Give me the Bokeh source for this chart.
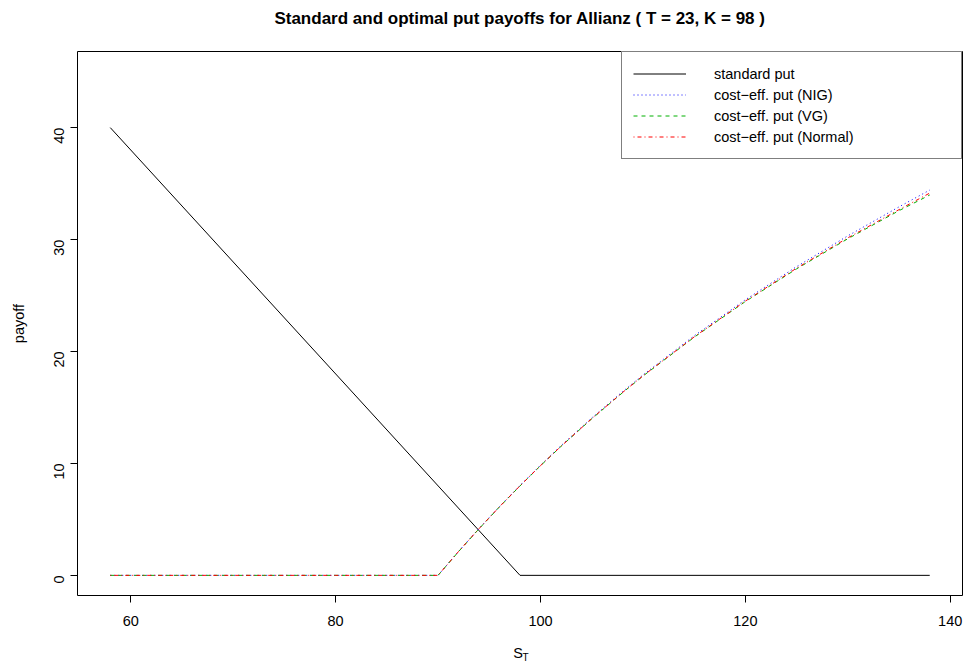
from bokeh.plotting import figure
from bokeh.models import Range1d, FixedTicker, Legend, LegendItem, LinearAxis
from bokeh.embed import file_html
from bokeh.resources import INLINE
import math

# ---- data ----
s_std = [58, 98, 138]
put_std = [40, 0, 0]

s_ce = [58, 70, 80, 90, 92, 94, 96, 98, 100, 102, 105, 108, 110, 115, 120, 125, 130, 135, 138]
put_nig = [0, 0, 0, 0, 2.14, 4.19, 6.15, 8.03, 9.84, 11.58, 14.06, 16.40, 17.90, 21.40, 24.62, 27.58, 30.33, 32.92, 34.42]
put_vg = [0, 0, 0, 0, 2.12, 4.16, 6.12, 7.99, 9.79, 11.52, 13.98, 16.31, 17.80, 21.27, 24.46, 27.38, 30.07, 32.58, 33.98]
put_norm = [0, 0, 0, 0, 2.13, 4.17, 6.13, 8.00, 9.80, 11.53, 14.00, 16.33, 17.82, 21.30, 24.50, 27.44, 30.15, 32.67, 34.15]

x_ticks = [60, 80, 100, 120, 140]
y_ticks = [0, 10, 20, 30, 40]

title_text = "Standard and optimal put payoffs for Allianz ( T = 23, K = 98 )"
labels = ["standard put", "cost\u2212eff. put (NIG)", "cost\u2212eff. put (VG)", "cost\u2212eff. put (Normal)"]
NB = "\u00a0"

FONT = "Liberation Sans"

p = figure(width=964, height=666, output_backend="svg", toolbar_location=None,
           x_range=Range1d(54.8, 141.2), y_range=Range1d(-1.8, 46.8),
           min_border_left=77, min_border_right=2, min_border_top=51, min_border_bottom=71)
p.background_fill_color = "white"
p.border_fill_color = "white"
p.outline_line_color = "black"
p.outline_line_width = 1
p.xgrid.visible = False
p.ygrid.visible = False

xa = p.below[0]
ya = p.left[0]

p.title.text = title_text
p.title.text_font = FONT
p.title.text_font_size = "17px"
p.title.text_font_style = "bold"
p.title.align = "center"
p.title.text_color = "black"
p.title.standoff = 0

for ax in (xa, ya):
    ax.axis_line_color = None
    ax.major_tick_out = 7
    ax.major_tick_in = 0
    ax.minor_tick_line_color = None
    ax.major_tick_line_color = "black"
    ax.major_label_text_font = FONT
    ax.major_label_text_font_size = "14.5px"
    ax.major_label_text_color = "black"

xa.major_label_standoff = 13
ya.major_label_standoff = 11
xa.ticker = FixedTicker(ticks=x_ticks)
ya.ticker = FixedTicker(ticks=y_ticks)
ya.major_label_orientation = math.pi / 2
ya.axis_label = "payoff"
ya.axis_label_text_font = FONT
ya.axis_label_text_font_size = "14.5px"
ya.axis_label_text_font_style = "normal"
ya.axis_label_text_color = "black"
ya.axis_label_standoff = 20

# x-axis label S_T : "S" on the main axis, subscript "T" on an extra tick-less axis
xa.axis_label = "S" + NB
xa.axis_label_text_font = FONT
xa.axis_label_text_font_size = "14.5px"
xa.axis_label_text_font_style = "normal"
xa.axis_label_text_color = "black"
xa.axis_label_standoff = 16

sub_axis = LinearAxis(ticker=FixedTicker(ticks=[]), axis_label=NB * 4 + "T",
                      axis_line_color=None, major_tick_out=0, major_tick_in=0,
                      minor_tick_out=0, minor_tick_in=0, major_label_standoff=0,
                      minor_tick_line_color=None, major_tick_line_color=None,
                      axis_label_standoff=-12, axis_label_text_font=FONT,
                      axis_label_text_font_size="10px", axis_label_text_font_style="normal",
                      axis_label_text_color="black")
p.add_layout(sub_axis, "below")

# empty spacer axis between the title and the frame (lifts the title)
top_gap = LinearAxis(ticker=FixedTicker(ticks=[]), axis_label=NB,
                     axis_line_color=None, major_tick_out=0, major_tick_in=0,
                     minor_tick_out=0, minor_tick_in=0, major_label_standoff=0,
                     minor_tick_line_color=None, major_tick_line_color=None,
                     axis_label_standoff=20, axis_label_text_font_size="1px")
p.add_layout(top_gap, "above")

r_std = p.line(s_std, put_std, line_color="black", line_width=1)
r_nig = p.line(s_ce, put_nig, line_color="#0000FF", line_width=1, line_dash="1 3")
r_vg = p.line(s_ce, put_vg, line_color="#00B000", line_width=1, line_dash="4 4")
r_norm = p.line(s_ce, put_norm, line_color="#FF0000", line_width=1, line_dash="1 3 4 3")

legend = Legend(items=[LegendItem(label=labels[0], renderers=[r_std]),
                       LegendItem(label=labels[1], renderers=[r_nig]),
                       LegendItem(label=labels[2], renderers=[r_vg]),
                       LegendItem(label=labels[3], renderers=[r_norm])],
                location="top_right", margin=0, padding=11, spacing=0,
                glyph_width=53, glyph_height=21, label_height=21,
                label_standoff=28, label_width=236,
                border_line_color="black", border_line_width=1,
                background_fill_color="white", background_fill_alpha=1,
                label_text_font=FONT, label_text_font_size="14.5px",
                label_text_color="black")
p.add_layout(legend)

open("out.html", "w").write(file_html(p, INLINE))
